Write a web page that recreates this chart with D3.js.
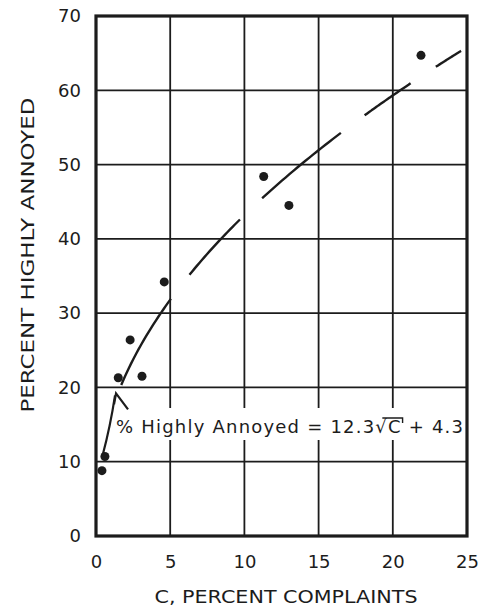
<!DOCTYPE html>
<html>
<head>
<meta charset="utf-8">
<script src="https://cdn.jsdelivr.net/npm/d3@7"></script>
<style>
  html, body { margin: 0; padding: 0; background: #fff; }
  svg { display: block; }
</style>
</head>
<body>
<svg id="chart" width="478" height="609"></svg>
<script>
// ---- data ----
const xTicks = [0, 5, 10, 15, 20, 25];
const yTicks = [0, 10, 20, 30, 40, 50, 60, 70];
const pointsC = [0.4, 0.6, 1.5, 3.1, 2.3, 4.6, 11.3, 13.0, 21.9];
const pointsY = [8.8, 10.7, 21.3, 21.5, 26.4, 34.2, 48.4, 44.5, 64.7];
// fitted curve: % Highly Annoyed = 12.3*sqrt(C) + 4.3 (drawn as long dashes)
const fitA = 12.3, fitB = 4.3;
const dashStart = [1.7, 6.3, 11.2, 18.1, 22.9];
const dashEnd = [5.05, 9.7, 16.5, 21.2, 24.6];
// annotation arrow (data units): from near low points up to curve start
const arrowFrom = [0.45, 10.9];
const arrowTo = [1.35, 19.2];
const xTitle = "C, PERCENT COMPLAINTS";
const yTitle = "PERCENT HIGHLY ANNOYED";

// ---- layout ----
const svg = d3.select("#chart");
const ink = "#1c1c1c";
const font = "'DejaVu Sans', sans-serif";
const x = d3.scaleLinear().domain([0, 25]).range([96, 467]);
const y = d3.scaleLinear().domain([0, 70]).range([536, 16]);

// grid
const grid = svg.append("g");
grid.selectAll("line.v").data(xTicks.slice(1, -1)).join("line")
  .attr("x1", d => x(d)).attr("x2", d => x(d))
  .attr("y1", y(70)).attr("y2", y(0))
  .attr("stroke", ink).attr("stroke-width", 1.8);
grid.selectAll("line.h").data(yTicks.slice(1, -1)).join("line")
  .attr("x1", x(0)).attr("x2", x(25))
  .attr("y1", d => y(d)).attr("y2", d => y(d))
  .attr("stroke", ink).attr("stroke-width", 1.8);

// annotation background (interrupts grid)
const annotY = 427;
const annot = svg.append("g");
annot.append("rect")
  .attr("x", 113).attr("y", annotY - 19)
  .attr("width", x(25) - 3 - 113).attr("height", 32)
  .attr("fill", "#fff");

// frame
svg.append("rect")
  .attr("x", x(0)).attr("y", y(70))
  .attr("width", x(25) - x(0)).attr("height", y(0) - y(70))
  .attr("fill", "none").attr("stroke", ink).attr("stroke-width", 3.2);

// axes labels via d3 axes
const xAxis = d3.axisBottom(x).tickValues(xTicks).tickSize(0).tickPadding(19);
const yAxis = d3.axisLeft(y).tickValues(yTicks).tickSize(0).tickPadding(15);
const gx = svg.append("g").attr("transform", `translate(0,${y(0)})`).call(xAxis);
const gy = svg.append("g").attr("transform", `translate(${x(0)},0)`).call(yAxis);
[gx, gy].forEach(g => {
  g.select(".domain").remove();
  g.selectAll("text").attr("font-family", font).attr("font-size", 18)
    .attr("fill", ink);
});

// axis titles
svg.append("text")
  .attr("x", 286).attr("y", 603)
  .attr("text-anchor", "middle")
  .attr("font-family", font).attr("font-size", 18).attr("fill", ink)
  .attr("textLength", 263).attr("lengthAdjust", "spacingAndGlyphs")
  .text(xTitle);
svg.append("text")
  .attr("transform", "translate(34,255) rotate(-90)")
  .attr("text-anchor", "middle")
  .attr("font-family", font).attr("font-size", 18).attr("fill", ink)
  .attr("textLength", 315).attr("lengthAdjust", "spacingAndGlyphs")
  .text(yTitle);

// fitted curve dashes
const line = d3.line().x(d => x(d)).y(d => y(fitA * Math.sqrt(d) + fitB)).curve(d3.curveMonotoneX);
svg.append("g").selectAll("path").data(dashStart.map((s, i) => [s, dashEnd[i]])).join("path")
  .attr("d", d => line(d3.range(0, 21).map(k => d[0] + (d[1] - d[0]) * k / 20)))
  .attr("fill", "none").attr("stroke", ink).attr("stroke-width", 2.4);

// points
svg.append("g").selectAll("circle").data(pointsC.map((c, i) => [c, pointsY[i]])).join("circle")
  .attr("cx", d => x(d[0])).attr("cy", d => y(d[1])).attr("r", 4.5)
  .attr("fill", ink);

// arrow
const ax0 = x(arrowFrom[0]), ay0 = y(arrowFrom[1]);
const ax1 = x(arrowTo[0]), ay1 = y(arrowTo[1]);
svg.append("path")
  .attr("d", `M${ax0},${ay0} Q${(ax0 + ax1) / 2 + 1},${(ay0 + ay1) / 2 + 2} ${ax1 - 1},${ay1 + 2}`)
  .attr("fill", "none").attr("stroke", ink).attr("stroke-width", 2.2);
svg.append("path")
  .attr("d", `M${ax1 - 2},${ay1 + 11} L${ax1},${ay1} L${ax1 + 12},${ay1 + 16}`)
  .attr("fill", "none").attr("stroke", ink).attr("stroke-width", 2.2)
  .attr("stroke-linejoin", "miter");

// annotation text
const t = annot.append("text")
  .attr("x", 116).attr("y", annotY + 6)
  .attr("font-family", font).attr("font-size", 18).attr("fill", ink);
t.append("tspan").text("% Highly Annoyed = 12.3");
t.append("tspan").text("\u221A");
t.append("tspan").attr("class", "rad").text("C");
t.append("tspan").text(" + 4.3");
t.attr("textLength", 347).attr("lengthAdjust", "spacing");
// overline of radical
const full = "% Highly Annoyed = 12.3\u221AC + 4.3";
const ci = full.indexOf("C");
try {
  const node = t.node();
  const s = node.getStartPositionOfChar(ci - 1);
  const e = node.getEndPositionOfChar(ci);
  const topY = annotY - 9;
  annot.append("path")
    .attr("d", `M${s.x + 7},${topY} L${e.x + 2},${topY} L${e.x + 2},${topY + 5}`)
    .attr("fill", "none").attr("stroke", ink).attr("stroke-width", 1.4);
} catch (err) {}
</script>
</body>
</html>
